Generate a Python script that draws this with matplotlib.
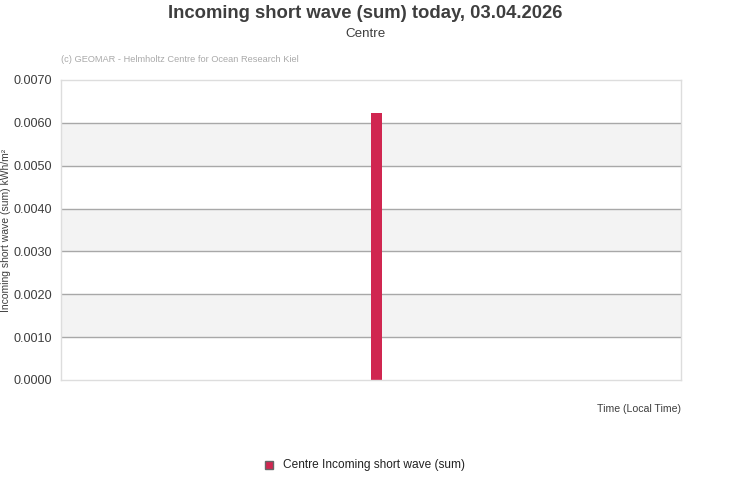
import matplotlib.pyplot as plt
from matplotlib.patches import Rectangle

plt.rcParams['font.family'] = ['Liberation Sans', 'DejaVu Sans']

# 数据
hours = [12.2]
values = [0.00623]
series_name = 'Centre Incoming short wave (sum)'
yticks = [0.0, 0.001, 0.002, 0.003, 0.004, 0.005, 0.006, 0.007]

bar_color = '#d02650'
text_color = '#3e3e3e'

fig = plt.figure(figsize=(7.31, 5), dpi=100)
ax = fig.add_axes([61 / 731, 1 - 380 / 500, 620 / 731, 300 / 500])

# 交替背景带
for i in range(len(yticks) - 1):
    if i % 2 == 1:
        ax.axhspan(yticks[i], yticks[i + 1], color='#f3f3f3', zorder=0, lw=0)
for t in yticks[1:-1]:
    ax.axhline(t, color='#a8a8a8', lw=1, zorder=1)

ax.bar(hours, values, width=0.43, color=bar_color, zorder=2, align='center')

ax.set_xlim(0, 24)
ax.set_ylim(0, 0.007)
ax.set_yticks(yticks)
ax.set_yticklabels([f'{t:.4f}' for t in yticks])
ax.set_xticks([])
ax.tick_params(axis='y', length=0, pad=6.5, labelsize=9.1, labelcolor=text_color)
for s in ax.spines.values():
    s.set_color('#dddddd')
    s.set_linewidth(1)

ax.set_ylabel('Incoming short wave (sum) kWh/m²', fontsize=7.5, color=text_color)
ax.yaxis.set_label_coords(-50 / 620, 0.5)

# 标题
fig.text(0.5, 1 - 13 / 500, 'Incoming short wave (sum) today, 03.04.2026', ha='center', va='center',
         fontsize=13.3, fontweight='bold', color=text_color)
fig.text(0.5, 1 - 34 / 500, 'Centre', ha='center', va='center', fontsize=9.6, color=text_color)
fig.text(61 / 731, 1 - 60 / 500, '(c) GEOMAR - Helmholtz Centre for Ocean Research Kiel', ha='left', va='center',
         fontsize=6.7, color='#aaaaaa')
fig.text(681 / 731, 1 - 409 / 500, 'Time (Local Time)', ha='right', va='center', fontsize=7.6, color=text_color)

# 图例
fig.patches.append(Rectangle((265 / 731, 1 - 469 / 500), 8 / 731, 8 / 500, transform=fig.transFigure,
                             facecolor=bar_color, edgecolor='#666666', lw=1))
fig.text(283 / 731, 1 - 465 / 500, series_name, ha='left', va='center', fontsize=8.6, color='#222222')

fig.savefig('out.png', dpi=100)
